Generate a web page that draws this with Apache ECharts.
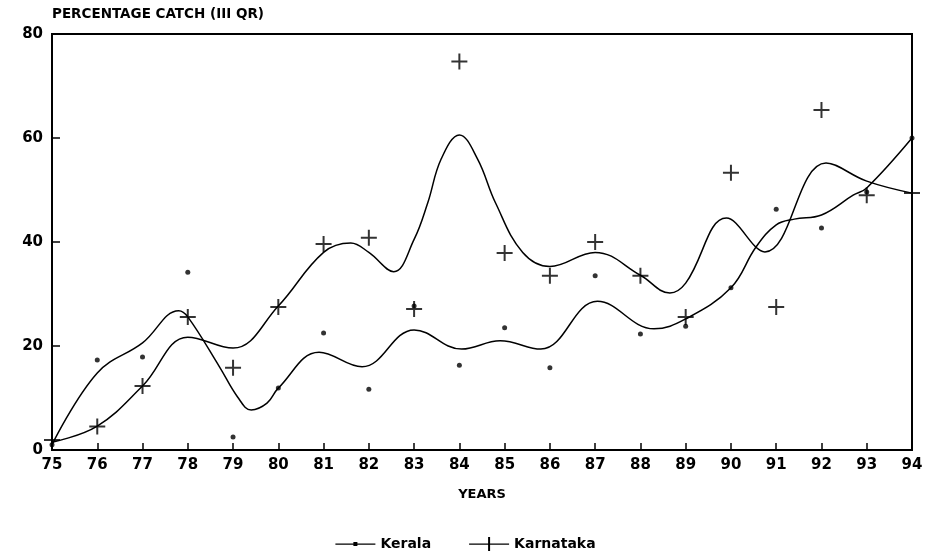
<!DOCTYPE html>
<html>
<head>
<meta charset="utf-8">
<script src="https://cdn.jsdelivr.net/npm/echarts@6/dist/echarts.min.js"></script>
<style>
  html, body { margin: 0; padding: 0; background: #fff; }
  #chart { width: 931px; height: 560px; }
</style>
</head>
<body>
<div id="chart"></div>
<script>
// years on the x axis (tick labels 75 .. 94)
const years = [75, 76, 77, 78, 79, 80, 81, 82, 83, 84, 85, 86, 87, 88, 89, 90, 91, 92, 93, 94];

// observed percentage catch (III quarter)
const keralaObs = [1, 17.3, 17.9, 34.2, 2.5, 11.9, 22.5, 11.7, 27.7, 16.3, 23.5, 15.8, 33.5, 22.3, 23.8, 31.2, 46.3, 42.7, 49.6, 60];
const karnatakaObs = [1.9, 4.5, 12.3, 25.6, 15.8, 27.5, 39.6, 40.8, 27.1, 74.7, 37.9, 33.5, 40, 33.5, 25.6, 53.3, 27.5, 65.4, 49, 49.4];

// fitted curves as [year, value]
const keralaFit = [[75, 1], [76, 14.8], [77, 20.6], [77.8, 26.8], [78, 25.6], [78.7, 16], [79.1, 10.2], [79.4, 7.7], [79.75, 9], [80, 11.9], [80.9, 18.8], [81.85, 16], [83, 23.1], [84.05, 19.4], [84.9, 21], [85.8, 19.4], [87.05, 28.6], [88.3, 23.3], [89, 25.2], [90, 31.2], [90.55, 39], [91, 43.3], [91.4, 44.4], [92, 45.2], [92.7, 49], [93, 50.4], [94, 60]];
const karnatakaFit = [[75, 1.5], [76, 4.6], [77, 12.3], [78, 21.7], [79, 19.6], [80, 27.7], [81, 38], [81.6, 39.8], [82, 38], [82.55, 34.3], [83, 40.5], [83.3, 47.5], [83.6, 56], [84, 60.6], [84.4, 56], [84.8, 47.5], [85.4, 38], [86, 35.3], [87, 38], [88, 33.6], [88.65, 30.2], [89, 32.1], [89.9, 44.6], [90.75, 38.1], [92.1, 55.2], [93, 51.7], [94, 49.4]];

const yTicks = [0, 20, 40, 60, 80];

const font = 'DejaVu Sans';
const plusPath = 'path://M7,0h2v7h7v2h-7v7h-2v-7h-7v-2h7z';
const keralaIcon = 'path://M0,6.4h40v1.4h-40z M18,5h4v4h-4z';
const karnatakaIcon = 'path://M0,6.4h40v1.4h-40z M19,0h2v14h-2z';

const chart = echarts.init(document.getElementById('chart'));

chart.setOption({
  animation: false,
  backgroundColor: '#fff',
  title: {
    text: 'PERCENTAGE CATCH (III QR)',
    left: 47,
    top: 2,
    textStyle: { fontFamily: font, fontWeight: 'bold', fontSize: 13.5, color: '#000' }
  },
  grid: {
    left: 52,
    right: 19,
    top: 34,
    bottom: 110,
    show: true,
    borderColor: '#000',
    borderWidth: 2,
    backgroundColor: 'transparent'
  },
  legend: {
    bottom: 4,
    left: 'center',
    itemGap: 38,
    itemWidth: 40,
    itemHeight: 14,
    textStyle: { fontFamily: font, fontWeight: 'bold', fontSize: 14, color: '#000' },
    data: [
      { name: 'Kerala', icon: keralaIcon },
      { name: 'Karnataka', icon: karnatakaIcon }
    ]
  },
  xAxis: {
    type: 'value',
    min: years[0],
    max: years[years.length - 1],
    interval: 1,
    name: 'YEARS',
    nameLocation: 'middle',
    nameGap: 38,
    nameTextStyle: { fontFamily: font, fontWeight: 'bold', fontSize: 13, color: '#000' },
    axisLine: { lineStyle: { color: '#000', width: 2 } },
    axisTick: { inside: true, length: 7, lineStyle: { color: '#000', width: 1.5 } },
    axisLabel: { margin: 8, fontFamily: font, fontWeight: 'bold', fontSize: 15, color: '#000' },
    splitLine: { show: false }
  },
  yAxis: {
    type: 'value',
    min: yTicks[0],
    max: yTicks[yTicks.length - 1],
    interval: 20,
    axisLine: { show: true, lineStyle: { color: '#000', width: 2 } },
    axisTick: { show: true, inside: true, length: 8, lineStyle: { color: '#000', width: 1.5 } },
    axisLabel: { margin: 9, fontFamily: font, fontWeight: 'bold', fontSize: 15, color: '#000' },
    splitLine: { show: false }
  },
  series: [
    {
      name: 'Kerala',
      type: 'line',
      data: keralaFit,
      smooth: 0.4,
      showSymbol: false,
      lineStyle: { color: '#000', width: 1.5 },
      itemStyle: { color: '#000' }
    },
    {
      name: 'Karnataka',
      type: 'line',
      data: karnatakaFit,
      smooth: 0.4,
      showSymbol: false,
      lineStyle: { color: '#000', width: 1.5 },
      itemStyle: { color: '#000' }
    },
    {
      name: 'Kerala',
      type: 'scatter',
      data: years.map((y, i) => [y, keralaObs[i]]),
      symbol: 'circle',
      symbolSize: 5,
      itemStyle: { color: '#000' }
    },
    {
      name: 'Karnataka',
      type: 'scatter',
      data: years.map((y, i) => [y, karnatakaObs[i]]),
      symbol: plusPath,
      symbolSize: 16,
      itemStyle: { color: '#000' }
    }
  ]
});
</script>
</body>
</html>
